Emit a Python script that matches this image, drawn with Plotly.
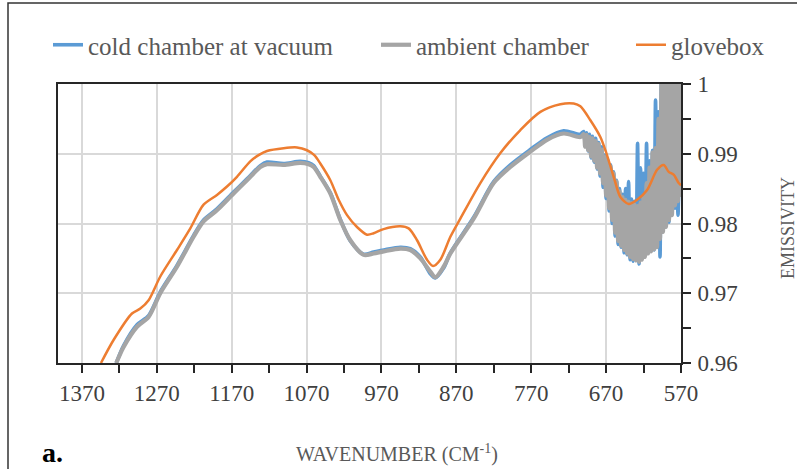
import plotly.graph_objects as go

# Wavenumbers (cm^-1) sampled for the two chamber spectra (shared grid)
spectrum_wn = [
    1324.2, 1314.4, 1296.5, 1281.0, 1265.4, 1243.1, 1220.9, 1207.6, 1189.7,
    1167.5, 1149.6, 1131.8, 1122.9, 1100.7, 1078.4, 1067.3, 1060.6, 1051.7,
    1038.3, 1025.0, 1011.6, 993.8, 980.5, 967.1, 944.8, 931.5, 918.1, 904.8,
    898.1, 887.0, 878.0, 846.9, 820.2, 797.9, 771.2, 748.9, 726.7, 704.4,
    700, 698, 696, 694, 692, 690, 688, 686, 684, 682, 680, 678, 676, 674,
    672, 670, 668, 666, 664, 662, 660, 658, 656, 654, 652, 650, 648, 646,
    644, 642, 640, 638, 636, 634, 632, 630, 628, 626, 624, 622, 620, 618,
    616, 614, 612, 610, 608, 606, 604, 602, 600, 598, 596, 594, 592, 590,
    588, 586, 584, 582, 580, 578, 576, 574, 572, 570,
]

cold_vacuum = [
    0.9600, 0.9625, 0.9655, 0.9668, 0.9702, 0.9740, 0.9783, 0.9805, 0.9821,
    0.9845, 0.9864, 0.9883, 0.9888, 0.9886, 0.9889, 0.9887, 0.9883, 0.9868,
    0.9844, 0.9806, 0.9775, 0.9756, 0.9759, 0.9762, 0.9766, 0.9764, 0.9752,
    0.9728, 0.9722, 0.9736, 0.9758, 0.9809, 0.9860, 0.9884, 0.9906, 0.9923,
    0.9933, 0.9928,
    0.9932, 0.9912, 0.9930, 0.9904, 0.9928, 0.9894, 0.9925, 0.9888, 0.9922,
    0.9878, 0.9916, 0.9868, 0.9910, 0.9852, 0.9898, 0.9836, 0.9892, 0.9818,
    0.9884, 0.9800, 0.9874, 0.9782, 0.9862, 0.9770, 0.9850, 0.9766, 0.9842,
    0.9758, 0.9850, 0.9755, 0.9860, 0.9748, 0.9835, 0.9746, 0.9832, 0.9756,
    0.9915, 0.9742, 0.9880, 0.9750, 0.9872, 0.9755, 0.9915, 0.9760, 0.9890,
    0.9765, 0.9905, 0.9762, 0.9977, 0.9768, 0.9960, 0.9752, 1.0030, 0.9790,
    1.0040, 0.9798, 1.0040, 0.9802, 1.0050, 0.9815, 1.0050, 0.9822, 1.0040,
    0.9812, 0.9880, 0.9840,
]

ambient_chamber = [
    0.9600, 0.9623, 0.9652, 0.9666, 0.9700, 0.9738, 0.9781, 0.9803, 0.9819,
    0.9843, 0.9862, 0.9881, 0.9885, 0.9884, 0.9887, 0.9885, 0.9881, 0.9867,
    0.9843, 0.9805, 0.9776, 0.9755, 0.9757, 0.9760, 0.9764, 0.9762, 0.9750,
    0.9731, 0.9723, 0.9738, 0.9757, 0.9807, 0.9858, 0.9881, 0.9903, 0.9920,
    0.9929, 0.9924,
    0.9928, 0.9910, 0.9927, 0.9905, 0.9924, 0.9896, 0.9922, 0.9890, 0.9918,
    0.9880, 0.9914, 0.9872, 0.9906, 0.9858, 0.9896, 0.9840, 0.9890, 0.9822,
    0.9882, 0.9805, 0.9872, 0.9787, 0.9860, 0.9775, 0.9846, 0.9768, 0.9838,
    0.9762, 0.9834, 0.9757, 0.9831, 0.9752, 0.9829, 0.9749, 0.9827, 0.9747,
    0.9825, 0.9745, 0.9830, 0.9748, 0.9840, 0.9752, 0.9858, 0.9757, 0.9880,
    0.9760, 0.9902, 0.9763, 0.9908, 0.9766, 0.9950, 0.9778, 1.0005, 0.9788,
    1.0030, 0.9795, 1.0040, 0.9805, 1.0050, 0.9812, 1.0050, 0.9826, 1.0050,
    0.9832, 1.0040, 0.9838,
]

# Glovebox spectrum on its own wavenumber grid
glovebox_wn = [
    1344.6, 1327.8, 1303.2, 1292.1, 1281.0, 1265.4, 1243.1, 1225.3, 1207.6,
    1189.7, 1176.3, 1163.0, 1145.2, 1134.1, 1122.9, 1100.7, 1082.8, 1069.5,
    1059.7, 1051.7, 1038.3, 1027.2, 1016.0, 1002.7, 989.3, 980.5, 967.1,
    944.8, 933.7, 922.5, 909.2, 901.1, 891.4, 878.0, 864.7, 838.0, 811.2,
    784.5, 757.8, 731.1, 713.3, 704.4, 691.0, 677.7, 669.7, 659.9, 651.0,
    639.9, 628.6, 615.3, 601.9, 593.1, 586.4, 579.8, 573.1, 570.0,
]
glovebox = [
    0.9600, 0.9633, 0.9671, 0.9678, 0.9690, 0.9724, 0.9762, 0.9793, 0.9827,
    0.9841, 0.9853, 0.9867, 0.9889, 0.9898, 0.9904, 0.9908, 0.9909, 0.9905,
    0.9898, 0.9886, 0.9862, 0.9834, 0.9812, 0.9795, 0.9784, 0.9786, 0.9792,
    0.9796, 0.9793, 0.9776, 0.9748, 0.9739, 0.9748, 0.9781, 0.9807, 0.9858,
    0.9901, 0.9934, 0.9960, 0.9971, 0.9972, 0.9968, 0.9948, 0.9924, 0.9901,
    0.9867, 0.9838, 0.9828, 0.9834, 0.9848, 0.9877, 0.9884, 0.9874, 0.9870,
    0.9858, 0.9855,
]

x_ticks = [1370, 1270, 1170, 1070, 970, 870, 770, 670, 570]
x_minor = [1320, 1220, 1120, 1020, 920, 820, 720, 620]
y_ticks = [0.96, 0.97, 0.98, 0.99, 1.0]
y_tick_text = ["0.96", "0.97", "0.98", "0.99", "1"]
y_minor = [0.965, 0.975, 0.985, 0.995]

SERIF = "Liberation Serif"
TEXT_GREY = "#595959"

fig = go.Figure()
fig.add_trace(go.Scatter(
    x=spectrum_wn, y=cold_vacuum, mode="lines", name="cold chamber at vacuum",
    line=dict(color="#5B9BD5", width=3.6, shape="spline", smoothing=0.8),
    legend="legend2",
))
fig.add_trace(go.Scatter(
    x=spectrum_wn, y=ambient_chamber, mode="lines", name="ambient chamber",
    line=dict(color="#A5A5A5", width=4.2, shape="spline", smoothing=0.8),
    legend="legend3",
))
fig.add_trace(go.Scatter(
    x=glovebox_wn, y=glovebox, mode="lines", name="glovebox",
    line=dict(color="#ED7D31", width=2.5, shape="spline", smoothing=0.8),
    legend="legend4",
))

PLOT_L, PLOT_W = 58, 623
PLOT_B, PLOT_H = 363, 279


def px_x(px):
    return (px - PLOT_L) / PLOT_W


def px_y(py):
    return (PLOT_B - py) / PLOT_H


def legend_at(px):
    return dict(
        x=px_x(px), y=px_y(45), orientation="h", xanchor="left",
        yanchor="middle", bgcolor="rgba(0,0,0,0)",
        font=dict(family=SERIF, size=25, color=TEXT_GREY),
    )


fig.update_layout(
    width=797, height=469,
    margin=dict(l=58, r=116, t=84, b=106),
    paper_bgcolor="white", plot_bgcolor="white",
    font=dict(family=SERIF, color="#404040"),
    showlegend=True,
    legend2=legend_at(48),
    legend3=legend_at(376),
    legend4=legend_at(631),
    xaxis=dict(
        range=[1402, 570], tickvals=x_ticks, ticks="outside", ticklen=8,
        tickwidth=1.5, tickcolor="#262626",
        minor=dict(tickvals=x_minor, ticks="outside", ticklen=8,
                   tickcolor="#262626", showgrid=False),
        showgrid=True, gridcolor="#d9d9d9", gridwidth=1.5,
        showline=True, mirror=True, linecolor="#262626", linewidth=1.8,
        zeroline=False, tickfont=dict(family=SERIF, size=23, color="#404040"),
    ),
    yaxis=dict(
        side="right", range=[0.96, 1.0], tickvals=y_ticks, ticktext=y_tick_text,
        ticks="outside", ticklen=8, tickwidth=1.5, tickcolor="#262626",
        minor=dict(tickvals=y_minor, ticks="outside", ticklen=8,
                   tickcolor="#262626", showgrid=False),
        showgrid=True, gridcolor="#d9d9d9", gridwidth=1.5,
        showline=True, mirror=True, linecolor="#262626", linewidth=1.8,
        zeroline=False, tickfont=dict(family=SERIF, size=23, color="#404040"),
        ticklabelstandoff=2,
    ),
    annotations=[
        dict(text="WAVENUMBER (CM<sup>-1</sup>)", xref="paper", yref="paper",
             x=px_x(396.5), y=px_y(453), xanchor="center", yanchor="middle",
             showarrow=False, font=dict(family=SERIF, size=20, color=TEXT_GREY)),
        dict(text="EMISSIVITY", xref="paper", yref="paper", textangle=-90,
             x=px_x(788), y=px_y(228), xanchor="center", yanchor="middle",
             showarrow=False, font=dict(family=SERIF, size=18, color=TEXT_GREY)),
        dict(text="<b>a.</b>", xref="paper", yref="paper",
             x=px_x(52), y=px_y(452), xanchor="center", yanchor="middle",
             showarrow=False, font=dict(family=SERIF, size=28, color="black")),
    ],
    shapes=[
        dict(type="rect", xref="paper", yref="paper",
             x0=px_x(8), x1=px_x(812), y0=px_y(3), y1=px_y(480),
             line=dict(color="#333333", width=1.5), fillcolor="rgba(0,0,0,0)",
             layer="below"),
    ],
)

fig.write_html("out.html")
